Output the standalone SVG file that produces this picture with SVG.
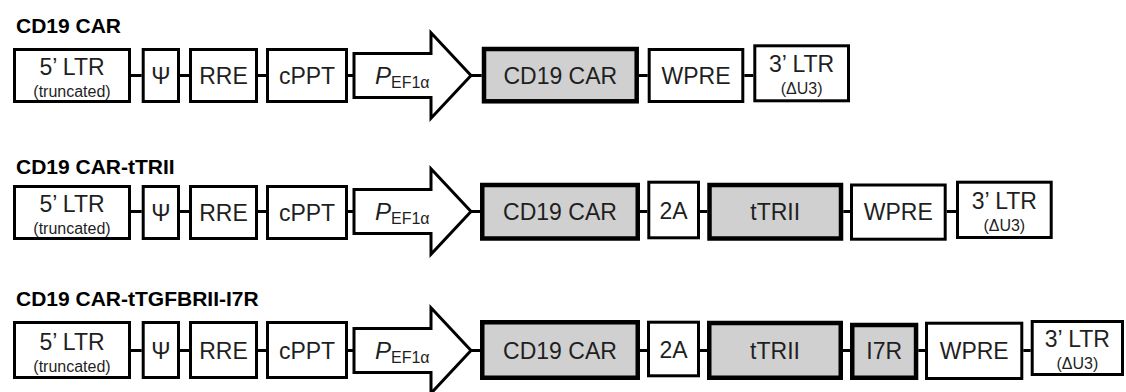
<svg xmlns="http://www.w3.org/2000/svg" width="1126" height="392" viewBox="0 0 1126 392">
  <style>
    .title { font-family: "Liberation Sans", Arial, sans-serif; font-size: 21px; font-weight: bold; fill: #000; }
    .box { fill: #fff; stroke: #000; stroke-width: 3; }
    .gene { fill: #d0d0d0; stroke: #000; stroke-width: 4.5; }
    .prom { fill: #fff; stroke: #000; stroke-width: 3; stroke-linejoin: miter; }
    .lbl { font-family: "Liberation Sans", Arial, sans-serif; font-size: 23px; fill: #1f1f1f; text-anchor: middle; }
    .sub { font-family: "Liberation Sans", Arial, sans-serif; font-size: 16px; fill: #1f1f1f; text-anchor: middle; }
    .pv { font-family: "Liberation Sans", Arial, sans-serif; font-size: 24px; fill: #1f1f1f; }
    .link { stroke: #000; stroke-width: 3; fill: none; }
  </style>

  <!-- Construct 1: CD19 CAR -->
  <text class="title" x="16" y="33">CD19 CAR</text>
  <g id="r1-ltr5">
    <rect class="box" x="14.5" y="49.5" width="115" height="52"/>
    <text class="lbl" x="72" y="74.5">5’ LTR</text>
    <text class="sub" x="72" y="96.5">(truncated)</text>
  </g>
  <g id="r1-psi">
    <rect class="box" x="143.2" y="49.5" width="35.3" height="52"/>
    <text class="lbl" x="160.8" y="83.5">Ψ</text>
  </g>
  <g id="r1-rre">
    <rect class="box" x="190.5" y="49.5" width="66" height="52"/>
    <text class="lbl" x="223.5" y="83.5">RRE</text>
  </g>
  <g id="r1-cppt">
    <rect class="box" x="267.5" y="49.5" width="79" height="52"/>
    <text class="lbl" x="307" y="83.5">cPPT</text>
  </g>
  <g id="r1-promoter">
    <path class="prom" d="M354,53.5 H431 V32.7 L471,75.5 L431,118.3 V97.5 H354 Z"/>
    <text class="pv" x="375" y="84"><tspan font-style="italic">P</tspan><tspan font-size="16" dy="4">EF1α</tspan></text>
  </g>
  <g id="r1-car">
    <rect class="gene" x="484" y="49" width="152.7" height="52.3"/>
    <text class="lbl" x="560.3" y="83.5">CD19 CAR</text>
  </g>
  <g id="r1-wpre">
    <rect class="box" x="649.2" y="49.5" width="93.6" height="52"/>
    <text class="lbl" x="696" y="83.5">WPRE</text>
  </g>
  <g id="r1-ltr3">
    <rect class="box" x="754.8" y="45.8" width="93.7" height="55"/>
    <text class="lbl" x="801.6" y="72">3’ LTR</text>
    <text class="sub" x="801.6" y="94">(ΔU3)</text>
  </g>

  <!-- Construct 2: CD19 CAR-tTRII -->
  <text class="title" x="16" y="174">CD19 CAR-tTRII</text>
  <g id="r2-ltr5">
    <rect class="box" x="14.5" y="186.5" width="115" height="52"/>
    <text class="lbl" x="72" y="211.5">5’ LTR</text>
    <text class="sub" x="72" y="233.5">(truncated)</text>
  </g>
  <g id="r2-psi">
    <rect class="box" x="143.2" y="186.5" width="35.3" height="52"/>
    <text class="lbl" x="160.8" y="220.5">Ψ</text>
  </g>
  <g id="r2-rre">
    <rect class="box" x="190.5" y="186.5" width="66" height="52"/>
    <text class="lbl" x="223.5" y="220.5">RRE</text>
  </g>
  <g id="r2-cppt">
    <rect class="box" x="267.5" y="186.5" width="79" height="52"/>
    <text class="lbl" x="307" y="220.5">cPPT</text>
  </g>
  <g id="r2-promoter">
    <path class="prom" d="M354,189.5 H431 V168.7 L471,211.5 L431,254.3 V233.5 H354 Z"/>
    <text class="pv" x="375" y="220"><tspan font-style="italic">P</tspan><tspan font-size="16" dy="4">EF1α</tspan></text>
  </g>
  <g id="r2-car">
    <rect class="gene" x="482.25" y="185" width="155.5" height="53.5"/>
    <text class="lbl" x="560" y="220">CD19 CAR</text>
  </g>
  <g id="r2-2a">
    <rect class="box" x="648.8" y="182.2" width="49.7" height="55.6"/>
    <text class="lbl" x="673.6" y="218.5">2A</text>
  </g>
  <g id="r2-ttrii">
    <rect class="gene" x="709.5" y="185" width="131.5" height="53.5"/>
    <text class="lbl" x="775.2" y="220">tTRII</text>
  </g>
  <g id="r2-wpre">
    <rect class="box" x="851.5" y="185" width="93.7" height="54.2"/>
    <text class="lbl" x="898.3" y="220">WPRE</text>
  </g>
  <g id="r2-ltr3">
    <rect class="box" x="957.5" y="182.2" width="93.7" height="55.3"/>
    <text class="lbl" x="1004.3" y="208.5">3’ LTR</text>
    <text class="sub" x="1004.3" y="230.5">(ΔU3)</text>
  </g>

  <!-- Construct 3: CD19 CAR-tTGFBRII-I7R -->
  <text class="title" x="16" y="306">CD19 CAR-tTGFBRII-I7R</text>
  <g id="r3-ltr5">
    <rect class="box" x="14.5" y="322.5" width="115" height="55"/>
    <text class="lbl" x="72" y="349.5">5’ LTR</text>
    <text class="sub" x="72" y="371.5">(truncated)</text>
  </g>
  <g id="r3-psi">
    <rect class="box" x="143.2" y="322.5" width="35.3" height="55"/>
    <text class="lbl" x="160.8" y="358.5">Ψ</text>
  </g>
  <g id="r3-rre">
    <rect class="box" x="190.5" y="322.5" width="66" height="55"/>
    <text class="lbl" x="223.5" y="358.5">RRE</text>
  </g>
  <g id="r3-cppt">
    <rect class="box" x="267.5" y="322.5" width="79" height="55"/>
    <text class="lbl" x="307" y="358.5">cPPT</text>
  </g>
  <g id="r3-promoter">
    <path class="prom" d="M354,328.5 H431 V307.7 L471,350.5 L431,393.3 V372.5 H354 Z"/>
    <text class="pv" x="375" y="359"><tspan font-style="italic">P</tspan><tspan font-size="16" dy="4">EF1α</tspan></text>
  </g>
  <g id="r3-car">
    <rect class="gene" x="482.25" y="322.25" width="155.5" height="55.5"/>
    <text class="lbl" x="560" y="358.5">CD19 CAR</text>
  </g>
  <g id="r3-2a">
    <rect class="box" x="648.5" y="322.2" width="50" height="53.6"/>
    <text class="lbl" x="673.5" y="357.5">2A</text>
  </g>
  <g id="r3-ttrii">
    <rect class="gene" x="709.25" y="323" width="131.5" height="54.75"/>
    <text class="lbl" x="775" y="358.5">tTRII</text>
  </g>
  <g id="r3-i7r">
    <rect class="gene" x="852.25" y="325" width="63.8" height="52.75"/>
    <text class="lbl" x="884.2" y="359">I7R</text>
  </g>
  <g id="r3-wpre">
    <rect class="box" x="926.5" y="323.2" width="95.3" height="55.3"/>
    <text class="lbl" x="974.2" y="359">WPRE</text>
  </g>
  <g id="r3-ltr3">
    <rect class="box" x="1032.2" y="321.5" width="90.3" height="53"/>
    <text class="lbl" x="1077.4" y="346.5">3’ LTR</text>
    <text class="sub" x="1077.4" y="368.5">(ΔU3)</text>
  </g>

  <!-- short backbone links between adjacent elements -->
  <g id="connectors" class="link">
    <path d="M131,75.5 H141.7 M180,75.5 H189 M258,75.5 H266 M348,75.5 H354 M471,75.5 H481.7 M639,75.5 H647.7 M744.3,75.5 H753.3"/>
    <path d="M131,211.5 H141.7 M180,211.5 H189 M258,211.5 H266 M348,211.5 H354 M471,211.5 H480 M640,211.5 H647.3 M700,211.5 H707.3 M843.3,211.5 H850 M946.7,211.5 H956"/>
    <path d="M131,350.5 H141.7 M180,350.5 H189 M258,350.5 H266 M348,350.5 H354 M471,350.5 H480 M640,350.5 H647 M700,350.5 H707 M843,350.5 H850 M918.3,350.5 H925 M1023.3,350.5 H1030.7"/>
  </g>
</svg>
